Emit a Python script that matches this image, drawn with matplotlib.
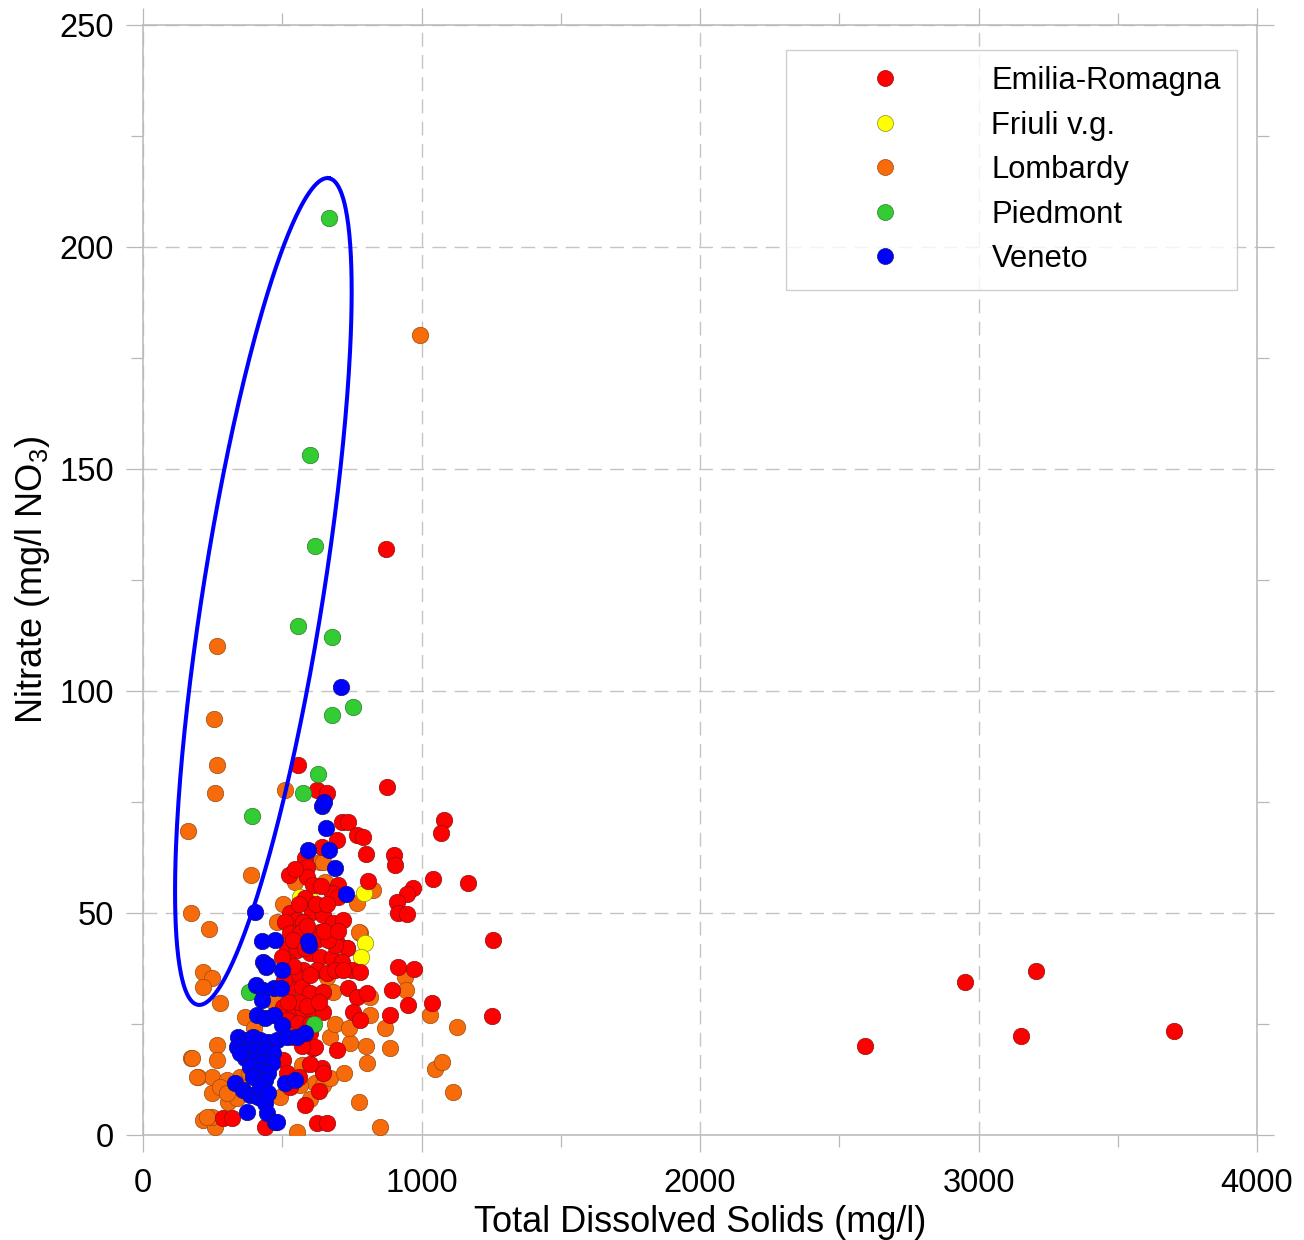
import numpy as np
import matplotlib
matplotlib.use("Agg")
import matplotlib.pyplot as plt
from matplotlib.lines import Line2D

plt.rcParams['font.family'] = ['Liberation Sans', 'DejaVu Sans']
plt.rcParams['mathtext.fontset'] = 'custom'
plt.rcParams['mathtext.rm'] = 'Liberation Sans'
plt.rcParams['mathtext.it'] = 'Liberation Sans:italic'

# Piedmont
pie_tds = [667, 599, 617, 556, 678, 678, 753, 628, 574, 391, 380, 614]
pie_no3 = [206.5, 153.2, 132.7, 114.7, 112.2, 94.6, 96.4, 81.3, 77.0, 71.8, 32.2, 25.0]

# Friuli v.g.
fri_tds = [563, 599, 793, 796, 782, 610]
fri_no3 = [53.6, 53.2, 54.5, 43.2, 40.1, 25.5]

# Veneto
ven_tds = [710, 642, 649, 656, 592, 667, 689, 728, 402, 427, 474, 596, 592, 430, 441,
           445, 499, 405, 430, 470, 495, 427, 409, 438, 470, 499, 341, 373, 395, 420,
           448, 481, 517, 552, 581, 337, 373, 409, 438, 466, 366, 402, 430, 463, 384,
           420, 448, 395, 438, 509, 545, 330, 359, 384, 413, 438, 373, 445, 474, 420,
           448, 348, 481]
ven_no3 = [100.9, 74.1, 75.0, 69.1, 64.2, 64.2, 60.1, 54.3, 50.2, 43.7, 43.9, 42.8, 43.7, 39.0, 37.8,
           38.3, 37.2, 33.8, 32.7, 33.1, 33.1, 30.4, 27.0, 26.4, 27.0, 24.8, 22.1, 21.4, 22.1, 21.4,
           20.9, 21.4, 22.1, 22.1, 23.0, 19.8, 19.1, 19.1, 19.1, 18.5, 17.3, 16.9, 16.4, 16.2, 15.3,
           14.6, 14.0, 13.1, 12.4, 11.7, 12.4, 11.7, 10.1, 9.0, 8.6, 7.2, 5.2, 5.0, 2.9, 10.8,
           9.5, 18.5, 2.9]

# Emilia-Romagna
emr_tds = [2592, 2951, 3153, 3206, 3702, 872, 875, 1080, 1069, 1040, 1166, 1256, 1037, 1252,
           556, 624, 660, 714, 735, 768, 789, 696, 800, 900, 904, 807, 969, 947, 911, 915, 947, 700,
           642, 581, 588, 524, 588, 610, 678, 700, 581, 606, 527, 552, 574, 509, 646, 682, 717,
           635, 527, 563, 696, 732, 517, 552, 599, 635, 678, 714, 750, 778, 520, 574, 552, 624,
           660, 689, 527, 570, 599, 646, 735, 768, 804, 502, 538, 574, 610, 646, 753, 778, 520,
           556, 599, 610, 696, 502, 517, 642, 646, 527, 581, 287, 319, 438, 624, 660,
           915, 972, 893, 951, 886, 689, 717, 617,
           540, 560, 590, 620, 665, 600, 650, 540, 580, 620, 660, 640, 700, 560, 590, 630,
           540, 570, 600, 630, 560, 600, 520, 545, 500, 505]
emr_no3 = [20.0, 34.5, 22.3, 36.9, 23.4, 132.0, 78.4, 71.0, 68.0, 57.7, 56.8, 43.9, 29.7, 26.8,
           83.4, 77.7, 77.0, 70.5, 70.5, 67.6, 67.1, 66.4, 63.3, 63.1, 60.8, 57.2, 55.6, 54.3, 52.5, 50.0, 49.8, 56.3,
           64.9, 62.4, 60.4, 58.6, 58.1, 56.3, 54.5, 53.6, 53.4, 50.2, 50.0, 48.4, 48.0, 48.0, 49.5, 47.7, 48.4,
           45.7, 45.5, 45.5, 43.2, 42.1, 42.3, 41.7, 41.0, 40.1, 39.9, 39.0, 37.2, 36.7, 39.0, 37.2, 35.6, 37.2,
           36.5, 37.2, 33.1, 33.3, 32.0, 32.2, 33.1, 31.1, 32.0, 28.8, 28.8, 28.2, 27.5, 27.7, 27.7, 25.9, 25.9,
           25.2, 23.0, 19.6, 19.1, 16.9, 14.0, 15.1, 14.0, 10.8, 6.8, 3.8, 3.8, 1.8, 2.7, 2.7,
           37.8, 37.4, 32.7, 29.3, 27.0, 42.8, 37.2, 19.8,
           44.0, 52.0, 47.0, 44.0, 44.0, 36.0, 46.0, 38.0, 42.0, 52.0, 52.0, 56.0, 46.0, 30.0, 29.0, 30.0,
           22.0, 20.0, 16.0, 10.0, 13.0, 25.0, 30.0, 60.0, 40.0, 35.0]

# Lombardy
lom_tds = [994, 265, 255, 265, 258, 161, 387, 172, 237, 502, 509, 635,
           215, 247, 215, 276, 366, 265, 265, 172, 197, 247, 301, 348, 247, 276, 305, 337,
           215, 258, 247, 570, 617, 646, 552, 491, 563,
           778, 940, 944, 1030, 1126, 814, 868, 886, 743, 800, 804, 671, 775, 850, 1048,
           1073, 1112, 682, 732, 660, 814, 671,
           646, 653, 768, 825, 775, 176, 194, 230, 301,
           380, 400, 470, 480, 545, 690, 740, 720, 600]
lom_no3 = [180.2, 110.1, 93.7, 83.3, 77.0, 68.5, 58.6, 50.0, 46.4, 52.0, 77.7, 61.5,
           36.7, 35.4, 33.3, 29.7, 26.6, 20.3, 16.9, 17.3, 13.1, 13.1, 12.4, 13.1, 9.5, 10.8, 7.4, 8.3,
           3.4, 1.8, 4.1, 15.8, 11.7, 11.3, 0.7, 8.6, 11.3,
           45.5, 35.6, 32.7, 27.0, 24.3, 27.0, 24.1, 19.6, 20.7, 20.0, 16.2, 12.8, 7.4, 1.8, 14.9,
           16.4, 9.7, 32.2, 42.1, 35.6, 31.1, 22.1,
           61.5, 57.0, 52.3, 55.2, 45.7, 17.3, 13.1, 4.0, 9.5,
           14.0, 24.0, 30.0, 48.0, 57.0, 25.0, 24.0, 14.0, 8.0]

# highlighted group (ellipse), centre in data units
ell_center = (432, 122.4)
ell_len_px, ell_wid_px, ell_angle = 837, 120, 81.0

fig = plt.figure(figsize=(13.04, 12.4), dpi=100)
ax = fig.add_axes([0.1097, 0.0847, 0.8543, 0.8952])
ax.set_xlim(0, 4000)
ax.set_ylim(0, 250)

ax.set_xticks([0, 1000, 2000, 3000, 4000])
ax.set_xticks([500, 1500, 2500, 3500], minor=True)
ax.set_yticks([0, 50, 100, 150, 200, 250])
ax.set_yticks(np.arange(25, 250, 50), minor=True)

spine_col = '#b8b8b8'
for sp in ax.spines.values():
    sp.set_color(spine_col)
    sp.set_linewidth(1.1)
ax.tick_params(which='both', direction='out', color=spine_col, width=0.9,
               top=True, right=True, labelsize=23.5, pad=9)
ax.tick_params(axis='x', which='major', pad=12)
ax.tick_params(which='major', length=12)
ax.tick_params(which='minor', length=8.5)
ax.grid(True, which='major', color='#c4c4c4', linestyle=(0, (10, 6)), linewidth=1.0)
ax.set_axisbelow(True)

groups = [
    ('Lombardy', lom_tds, lom_no3, '#f76b0a', '#9a4a10'),
    ('Friuli v.g.', fri_tds, fri_no3, '#ffff00', '#8a8a20'),
    ('Emilia-Romagna', emr_tds, emr_no3, '#ff0000', '#8a1010'),
    ('Piedmont', pie_tds, pie_no3, '#33cc33', '#2a7a2a'),
    ('Veneto', ven_tds, ven_no3, '#0000ff', '#10107a'),
]
handles = {}
for name, xs, ys, fc, ec in groups:
    ax.scatter(xs, ys, s=140, c=fc, edgecolors=ec, linewidths=0.5, zorder=3)
    handles[name] = Line2D([], [], linestyle='none', marker='o', markersize=11.5,
                           markerfacecolor=fc, markeredgecolor=ec, markeredgewidth=0.5)

# ellipse drawn with a pixel-space shape around a data-space centre
sx = ax.bbox.width / 4000.0
sy = ax.bbox.height / 250.0
t = np.linspace(0, 2 * np.pi, 400)
a, b, th = ell_len_px / 2, ell_wid_px / 2, np.radians(ell_angle)
u = a * np.cos(t) * np.cos(th) - b * np.sin(t) * np.sin(th)
v = a * np.cos(t) * np.sin(th) + b * np.sin(t) * np.cos(th)
ax.plot(ell_center[0] + u / sx, ell_center[1] + v / sy, color='#0000ff', lw=2.9, zorder=4)

order = ['Emilia-Romagna', 'Friuli v.g.', 'Lombardy', 'Piedmont', 'Veneto']
leg = ax.legend([handles[n] for n in order], order, loc='upper right',
                bbox_to_anchor=(0.982, 0.9775), borderaxespad=0, fontsize=22.3,
                frameon=True, fancybox=False, handlelength=5.4, handletextpad=0.72,
                borderpad=0.52, labelspacing=0.47)
leg.get_frame().set_edgecolor('#c4c4c4')
leg.get_frame().set_linewidth(1.0)

ax.set_xlabel('Total Dissolved Solids (mg/l)', fontsize=26, labelpad=4)
ax.set_ylabel('Nitrate (mg/l NO$_3$)', fontsize=26, labelpad=5)

fig.savefig('out.png', dpi=100, facecolor='white')
plt.close(fig)
